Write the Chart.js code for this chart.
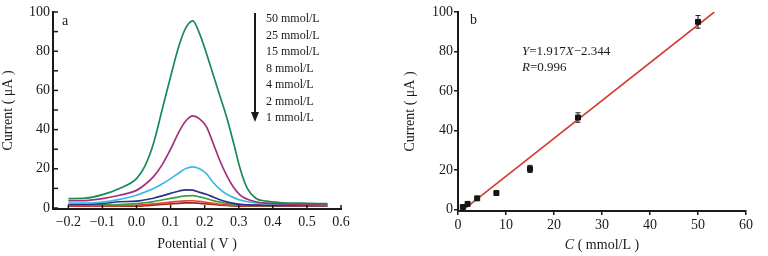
<!DOCTYPE html>
<html lang="en">
<head>
<meta charset="UTF-8" />
<title>Current vs potential and concentration</title>
<script src="https://cdn.jsdelivr.net/npm/chart.js"></script>
<style>
  html, body { margin: 0; padding: 0; background: #fff; }
  .wrap { position: relative; width: 768px; height: 256px; overflow: hidden; }
  #chartA { position: absolute; left: 0; top: 0; }
  #chartB { position: absolute; left: 390px; top: 0; }
</style>
</head>
<body>
<div class="wrap">
  <canvas id="chartA" width="360" height="256"></canvas>
  <canvas id="chartB" width="378" height="256"></canvas>
</div>

<script>
  // panel a: voltammograms
  const potential = [-0.2, -0.15, -0.1, -0.05, 0, 0.025, 0.05, 0.075, 0.1, 0.125, 0.145, 0.165, 0.185, 0.205, 0.225, 0.245, 0.265, 0.285, 0.305, 0.325, 0.35, 0.38, 0.42, 0.48, 0.56];
  const cur50 = [4.8, 5.0, 6.8, 10, 15, 21.5, 33, 50, 67, 83, 92, 95.5, 89, 79, 68, 57, 46, 33, 19.5, 10, 5, 3.5, 2.8, 2.5, 2.2];
  const cur25 = [3.7, 3.8, 4.8, 6.5, 9, 12, 16, 22, 30, 39, 44.5, 47, 45.5, 41.5, 33, 24, 16.5, 10.5, 6.5, 4.5, 3.2, 2.5, 2.1, 2.0, 2.0];
  const cur15 = [2.5, 2.5, 3.0, 4.4, 6.5, 8.2, 10, 12.3, 15, 18, 20.2, 21, 20, 17.5, 13, 9.5, 7, 5.3, 4, 3.2, 2.6, 2.2, 2.0, 1.8, 1.6];
  const cur8 = [1.8, 1.8, 2.2, 3.2, 3.5, 4.2, 5, 6.2, 7.5, 8.7, 9.3, 9.1, 8, 7, 5.6, 4.2, 3.1, 2.4, 1.9, 1.6, 1.5, 1.4, 1.4, 1.4, 1.4];
  const cur4 = [1.5, 1.5, 1.6, 1.8, 2.2, 2.7, 3.3, 4.1, 4.9, 5.7, 6.2, 6.3, 5.7, 4.8, 3.8, 3.0, 2.3, 1.9, 1.6, 1.4, 1.3, 1.3, 1.3, 1.3, 1.3];
  const cur2 = [1.2, 1.2, 1.2, 1.2, 1.4, 1.7, 2.1, 2.5, 3.0, 3.4, 3.6, 3.7, 3.4, 2.9, 2.4, 1.9, 1.6, 1.4, 1.3, 1.2, 1.2, 1.2, 1.2, 1.2, 1.2];
  const cur1 = [1.0, 1.0, 1.0, 1.0, 1.0, 1.2, 1.5, 1.8, 2.1, 2.4, 2.6, 2.6, 2.4, 2.1, 1.8, 1.5, 1.3, 1.1, 1.0, 1.0, 1.0, 1.0, 1.0, 1.0, 1.0];
  const curveLabels = ['50 mmol/L', '25 mmol/L', '15 mmol/L', '8 mmol/L', '4 mmol/L', '2 mmol/L', '1 mmol/L'];
  const curveColors = ['#178a55', '#a3307f', '#3cb9e2', '#2e2e8c', '#3f9f3f', '#e4463a', '#9a2a1c'];
  const potentialTicks = [-0.2, -0.1, 0, 0.1, 0.2, 0.3, 0.4, 0.5, 0.6];
  const currentTicksA = [0, 10, 20, 30, 40, 50, 60, 70, 80, 90, 100];

  // panel b: calibration
  const conc = [1, 2, 4, 8, 15, 25, 50];
  const peakCurrent = [1.3, 2.9, 5.7, 8.4, 20.6, 46.6, 95];
  const peakError = [0.3, 0.4, 0.5, 0.6, 1.8, 2.4, 3.2];
  const fitX = [1.3, 53.4];
  const fitY = [0.2, 100];
  const concTicks = [0, 10, 20, 30, 40, 50, 60];
  const currentTicksB = [0, 20, 40, 60, 80, 100];

  const serif = "'Liberation Serif', 'DejaVu Serif', serif";
  const ink = '#1a1a1a';

  const toPts = (xs, ys) => xs.map((x, i) => ({ x, y: ys[i] }));
  const fixTicks = vals => s => { s.ticks = vals.map(v => ({ value: v })); };
  const fmtV = v => (v < 0 ? '\u2212' : '') + Math.abs(v).toFixed(1);

  // ticks pointing into the plot (panel a)
  const innerTicks = {
    id: 'innerTicks',
    afterDraw(chart) {
      const { ctx, chartArea: a, scales } = chart;
      ctx.save();
      ctx.strokeStyle = ink;
      ctx.lineWidth = 1.5;
      scales.x.ticks.forEach(t => {
        const px = scales.x.getPixelForValue(t.value);
        ctx.beginPath(); ctx.moveTo(px, a.bottom); ctx.lineTo(px, a.bottom - 4); ctx.stroke();
      });
      scales.y.ticks.forEach(t => {
        const py = scales.y.getPixelForValue(t.value);
        ctx.beginPath(); ctx.moveTo(a.left, py); ctx.lineTo(a.left + 5, py); ctx.stroke();
      });
      ctx.restore();
    }
  };

  const notesA = {
    id: 'notesA',
    afterDraw(chart) {
      const ctx = chart.ctx;
      ctx.save();
      ctx.fillStyle = ink;
      ctx.textBaseline = 'middle';
      ctx.font = '14px ' + serif;
      ctx.fillText('a', 62, 21);
      ctx.font = '12px ' + serif;
      curveLabels.forEach((t, i) => ctx.fillText(t, 266, 19 + i * 16.5));
      // concentration arrow
      ctx.strokeStyle = ink;
      ctx.lineWidth = 2;
      ctx.beginPath(); ctx.moveTo(255, 13); ctx.lineTo(255, 114); ctx.stroke();
      ctx.beginPath(); ctx.moveTo(251, 112); ctx.lineTo(259, 112); ctx.lineTo(255, 122); ctx.closePath(); ctx.fill();
      ctx.restore();
    }
  };

  new Chart(document.getElementById('chartA'), {
    type: 'line',
    data: {
      datasets: [cur50, cur25, cur15, cur8, cur4, cur2, cur1].map((c, i) => ({
        label: curveLabels[i],
        data: toPts(potential, c),
        borderColor: curveColors[i],
        borderWidth: 1.7,
        pointRadius: 0,
        fill: false,
        cubicInterpolationMode: 'monotone'
      }))
    },
    options: {
      responsive: false,
      animation: false,
      layout: { padding: { top: 12, right: 19, left: 0, bottom: 0 } },
      plugins: { legend: { display: false }, tooltip: { enabled: false } },
      scales: {
        x: {
          type: 'linear',
          min: -0.245,
          max: 0.6,
          afterBuildTicks: fixTicks(potentialTicks),
          afterFit: s => { s.height = 47; },
          border: { color: ink, width: 2 },
          grid: { drawOnChartArea: false, drawTicks: false },
          ticks: {
            autoSkip: false, maxRotation: 0,
            padding: 5, color: ink, font: { family: serif, size: 14 },
            callback: v => fmtV(v)
          },
          title: { display: true, text: 'Potential ( V )', color: ink, font: { family: serif, size: 14 }, padding: { top: 0, bottom: 3 } }
        },
        y: {
          min: -0.5,
          max: 100,
          afterBuildTicks: fixTicks(currentTicksA),
          afterFit: s => { s.width = 53; },
          border: { color: ink, width: 2 },
          grid: { drawOnChartArea: false, drawTicks: false },
          ticks: {
            autoSkip: false,
            padding: 3, color: ink, font: { family: serif, size: 14 },
            callback: v => (v % 20 === 0 ? v : '')
          },
          title: { display: true, text: 'Current ( \u03bcA )', color: ink, font: { family: serif, size: 14 }, padding: { top: 0, bottom: 0 } }
        }
      }
    },
    plugins: [innerTicks, notesA]
  });

  const errorBars = {
    id: 'errorBars',
    afterDatasetsDraw(chart) {
      const { ctx, scales } = chart;
      ctx.save();
      ctx.strokeStyle = ink;
      ctx.lineWidth = 1;
      conc.forEach((c, i) => {
        const px = scales.x.getPixelForValue(c);
        const top = scales.y.getPixelForValue(peakCurrent[i] + peakError[i]);
        const bot = scales.y.getPixelForValue(peakCurrent[i] - peakError[i]);
        ctx.beginPath();
        ctx.moveTo(px, top); ctx.lineTo(px, bot);
        ctx.moveTo(px - 2.5, top); ctx.lineTo(px + 2.5, top);
        ctx.moveTo(px - 2.5, bot); ctx.lineTo(px + 2.5, bot);
        ctx.stroke();
      });
      ctx.restore();
    }
  };

  const notesB = {
    id: 'notesB',
    afterDraw(chart) {
      const { ctx, chartArea: a } = chart;
      const run = (parts, x, y) => {
        parts.forEach(([txt, italic]) => {
          ctx.font = (italic ? 'italic ' : '') + '13px ' + serif;
          ctx.fillText(txt, x, y);
          x += ctx.measureText(txt).width;
        });
      };
      ctx.save();
      ctx.fillStyle = ink;
      ctx.textBaseline = 'middle';
      ctx.font = '14px ' + serif;
      ctx.fillText('b', 80, 20);
      run([['Y', true], ['=1.917', false], ['X', true], ['\u22122.344', false]], 132, 52);
      run([['R', true], ['=0.996', false]], 132, 68);
      // x axis title with italic C
      ctx.font = 'italic 14px ' + serif;
      const w1 = ctx.measureText('C').width;
      ctx.font = '14px ' + serif;
      const w2 = ctx.measureText(' ( mmol/L )').width;
      let x0 = (a.left + a.right) / 2 - (w1 + w2) / 2;
      ctx.font = 'italic 14px ' + serif;
      ctx.fillText('C', x0, 245);
      ctx.font = '14px ' + serif;
      ctx.fillText(' ( mmol/L )', x0 + w1, 245);
      ctx.restore();
    }
  };

  new Chart(document.getElementById('chartB'), {
    type: 'scatter',
    data: {
      datasets: [
        {
          label: 'Current',
          data: toPts(conc, peakCurrent),
          backgroundColor: '#111',
          borderColor: '#111',
          pointStyle: 'rect',
          pointRadius: 3.5,
          showLine: false
        },
        {
          label: 'Fit',
          data: toPts(fitX, fitY),
          borderColor: '#d43a2f',
          borderWidth: 1.6,
          pointRadius: 0,
          showLine: true
        }
      ]
    },
    options: {
      responsive: false,
      animation: false,
      layout: { padding: { top: 12, right: 22, left: 0, bottom: 0 } },
      plugins: { legend: { display: false }, tooltip: { enabled: false } },
      scales: {
        x: {
          type: 'linear',
          min: 0,
          max: 60,
          afterBuildTicks: fixTicks(concTicks),
          afterFit: s => { s.height = 45; },
          border: { color: ink, width: 2 },
          grid: { drawOnChartArea: false, drawTicks: true, tickLength: 4, color: ink, lineWidth: 1.5 },
          ticks: {
            autoSkip: false, maxRotation: 0,
            padding: 2, color: ink, font: { family: serif, size: 14 }
          }
        },
        y: {
          min: -0.7,
          max: 100,
          afterBuildTicks: fixTicks(currentTicksB),
          afterFit: s => { s.width = 68; },
          border: { color: ink, width: 2 },
          grid: { drawOnChartArea: false, drawTicks: true, tickLength: 4, color: ink, lineWidth: 1.5 },
          ticks: {
            autoSkip: false,
            padding: 1, color: ink, font: { family: serif, size: 14 }
          },
          title: { display: true, text: 'Current ( \u03bcA )', color: ink, font: { family: serif, size: 14 }, padding: { top: 12, bottom: 0 } }
        }
      }
    },
    plugins: [errorBars, notesB]
  });
</script>
</body>
</html>
